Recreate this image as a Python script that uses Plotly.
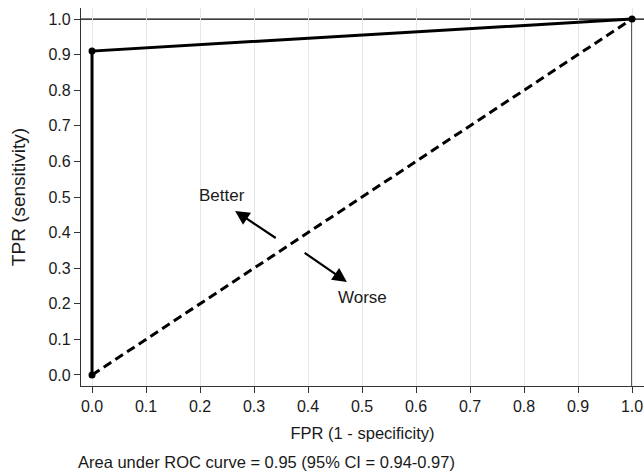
import plotly.graph_objects as go

# ROC data
roc_fpr = [0.0, 0.0, 1.0]
roc_tpr = [0.0, 0.91, 1.0]
ref_fpr = [0.0, 1.0]
ref_tpr = [0.0, 1.0]
tick_vals = [0.0, 0.1, 0.2, 0.3, 0.4, 0.5, 0.6, 0.7, 0.8, 0.9, 1.0]
tick_text = ["0.0", "0.1", "0.2", "0.3", "0.4", "0.5", "0.6", "0.7", "0.8", "0.9", "1.0"]
caption = "Area under ROC curve = 0.95 (95% CI = 0.94-0.97)"

FONT = "Liberation Sans, Arial, sans-serif"
TXT = "#1a1a1a"

fig = go.Figure()

# reference lines at y=1 and x=1
fig.add_shape(type="line", xref="paper", yref="y", x0=0, x1=1, y0=1.0, y1=1.0,
              line=dict(color="black", width=1.3), layer="below")
fig.add_shape(type="line", xref="x", yref="paper", x0=1.0, x1=1.0, y0=0, y1=0.97,
              line=dict(color="black", width=1.3), layer="below")

fig.add_trace(go.Scatter(x=ref_fpr, y=ref_tpr, mode="lines",
                         line=dict(color="black", width=3, dash="9px,5px"),
                         showlegend=False, hoverinfo="skip"))
fig.add_trace(go.Scatter(x=roc_fpr, y=roc_tpr, mode="lines+markers",
                         line=dict(color="black", width=3),
                         marker=dict(color="black", size=7),
                         showlegend=False, hoverinfo="skip"))

# Better / Worse arrows
fig.add_annotation(x=0.265, y=0.461, ax=0.343, ay=0.382, xref="x", yref="y",
                   axref="x", ayref="y", text="", showarrow=True,
                   arrowhead=2, arrowsize=1.3, arrowwidth=2.2, arrowcolor="black")
fig.add_annotation(x=0.472, y=0.261, ax=0.391, ay=0.346, xref="x", yref="y",
                   axref="x", ayref="y", text="", showarrow=True,
                   arrowhead=2, arrowsize=1.3, arrowwidth=2.2, arrowcolor="black")
fig.add_annotation(x=0.241, y=0.503, xref="x", yref="y", text="Better", showarrow=False,
                   font=dict(family=FONT, size=17, color=TXT))
fig.add_annotation(x=0.50, y=0.219, xref="x", yref="y", text="Worse", showarrow=False,
                   font=dict(family=FONT, size=17, color=TXT))

fig.add_annotation(x=-0.009, y=-0.201, xref="paper", yref="paper", text=caption,
                   showarrow=False, xanchor="left", yanchor="middle",
                   font=dict(family=FONT, size=16.5, color=TXT))

fig.update_layout(
    width=644, height=472,
    margin=dict(l=81, r=0, t=8, b=86),
    plot_bgcolor="white", paper_bgcolor="white",
    font=dict(family=FONT, size=16, color=TXT),
    xaxis=dict(range=[-0.0204, 1.0222], tickvals=tick_vals, ticktext=tick_text,
               showgrid=True, gridcolor="#e6e6e6", gridwidth=1,
               zeroline=False, showline=True, linecolor="#333333", linewidth=1.3,
               ticks="outside", ticklen=6, tickcolor="#333333",
               title=dict(text="FPR (1 - specificity)", font=dict(size=16.5), standoff=13)),
    yaxis=dict(range=[-0.031, 1.031], tickvals=tick_vals, ticktext=tick_text,
               showgrid=False, zeroline=False, showline=True, linecolor="#333333",
               linewidth=1.3, ticks="outside", ticklen=6, tickcolor="#333333",
               title=dict(text="TPR (sensitivity)", font=dict(size=19), standoff=17)),
)

fig.write_html("out.html", config={"displayModeBar": False},
               post_script="document.body.style.margin='0';")
